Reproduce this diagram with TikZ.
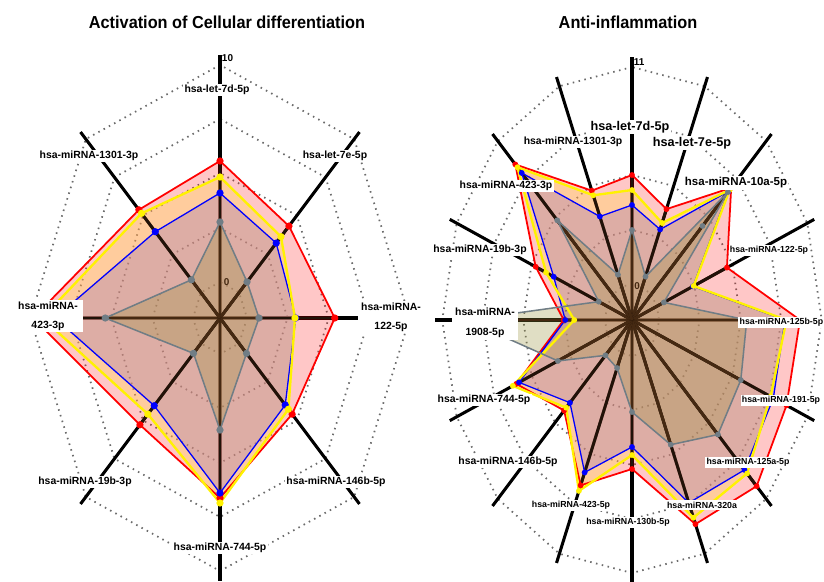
\documentclass[tikz,border=0pt]{standalone}
\usepackage{fontspec}
\setmainfont{Liberation Sans}
\usetikzlibrary{positioning}
\definecolor{seryellow}{rgb}{1.0,0.95,0.0}
\definecolor{serblue}{rgb}{0.0,0.0,1.0}
\definecolor{sergray}{rgb}{0.44,0.49,0.52}
\definecolor{yelfill}{rgb}{1.0,0.83,0.38}
\definecolor{bluefill}{rgb}{0.57,0.40,0.72}
\definecolor{grayfill}{rgb}{0.60,0.57,0.23}
\definecolor{axisdark}{rgb}{0.13,0.07,0.03}
\definecolor{axisbrown}{rgb}{0.27,0.16,0.07}
\definecolor{ringgray}{rgb}{0.42,0.42,0.42}
\newcommand{\radarpts}[3]{\foreach \v [count=\k from 0] in {#3} {\coordinate (#1\k) at ({90-#2*\k}:\v);}}
\tikzset{
  ring/.style={ringgray, line width=1.5pt, dash pattern=on 1.3pt off 3.8pt},
  axisline/.style={black, line width=2.6pt},
  axisin/.style={axisdark, line width=2.5pt},
  axisover/.style={axisbrown, line width=2.5pt},
  redfill/.style={fill=red, fill opacity=0.22},
  yelarea/.style={fill=yelfill, fill opacity=0.4},
  bluearea/.style={fill=bluefill, fill opacity=0.3},
  grayarea/.style={fill=grayfill, fill opacity=0.3},
  redline/.style={red, line width=1.5pt, line join=round},
  yelline/.style={seryellow, line width=2pt, line join=round},
  blueline/.style={serblue, line width=1.1pt, line join=round},
  grayline/.style={sergray, line width=1.3pt, line join=round},
  dot/.style={circle, inner sep=0pt, minimum size=6.2pt},
  sdot/.style={circle, inner sep=0pt, minimum size=5pt},
  lab/.style={fill=white, inner sep=1.2pt, align=center, font=\bfseries\fontsize{8.9}{16}\selectfont},
  labs/.style={lab, font=\bfseries\fontsize{7.5}{9}\selectfont},
  labm/.style={lab, font=\bfseries\fontsize{9.8}{12}\selectfont},
  labl/.style={lab, font=\bfseries\fontsize{10.8}{13}\selectfont},
  tick/.style={inner sep=0.5pt, font=\bfseries\fontsize{8.5}{9}\selectfont},
  title/.style={font=\bfseries\fontsize{14.8}{17}\selectfont}
}
\begin{document}
\begin{tikzpicture}[x=0.3mm, y=0.3mm]
\useasboundingbox (0,0) rectangle (824,581);

\begin{scope}[shift={(220,263)}, xscale=0.75]
  \coordinate (lc) at (0,0);
  \foreach \r in {36,90,145,199,253}
    \draw[ring] (90:\r) \foreach \a in {135,180,...,405} {-- (\a:\r)} -- cycle;
  \foreach \k in {0,...,7} {
    \coordinate (la\k) at ({90-45*\k}:263);
    \draw[axisline] (lc) -- (la\k);
  }
  \radarpts{lr}{45}{157,130,153,136,180,151,249,153}
  \radarpts{ly}{45}{141,115,100,129,185,136,237,148}
  \radarpts{lb}{45}{125,106,101,123,175,124,220,122}
  \radarpts{lg}{45}{96,51,52,50,112,50,153,54}
  \fill[redfill] (lr0) \foreach \k in {1,...,7} {-- (lr\k)} -- cycle;
  \fill[yelarea] (ly0) \foreach \k in {1,...,7} {-- (ly\k)} -- cycle;
  \fill[bluearea] (lb0) \foreach \k in {1,...,7} {-- (lb\k)} -- cycle;
  \fill[grayarea] (lg0) \foreach \k in {1,...,7} {-- (lg\k)} -- cycle;
  \foreach \k in {0,...,7} {
    \draw[axisin] (lc) -- (lr\k) (lc) -- (ly\k) (lc) -- (lb\k);
    \draw[axisover] (lc) -- (lg\k);
  }
  \node[tick, axisbrown] (lz) at (9,36) {0};
  \draw[redline] (lr0) \foreach \k in {1,...,7} {-- (lr\k)} -- cycle;
  \draw[blueline] (lb0) \foreach \k in {1,...,7} {-- (lb\k)} -- cycle;
  \draw[yelline] (ly0) \foreach \k in {1,...,7} {-- (ly\k)} -- cycle;
  \draw[grayline] (lg0) \foreach \k in {1,...,7} {-- (lg\k)} -- cycle;
  \foreach \k in {0,...,7} {
    \node[dot, fill=red] (lrd\k) at (lr\k) {};
    \node[dot, fill=serblue] (lbd\k) at (lb\k) {};
    \node[dot, fill=seryellow] (lyd\k) at (ly\k) {};
    \node[dot, fill=sergray] (lgd\k) at (lg\k) {};
  }
\end{scope}

\begin{scope}[shift={(632,261)}, xscale=0.75]
  \coordinate (rc) at (0,0);
  \foreach \r in {36,90,145,199,253}
    \draw[ring] (90:\r) \foreach \a in {112.5,135,...,427.5} {-- (\a:\r)} -- cycle;
  \foreach \k in {0,...,15} {
    \coordinate (ra\k) at ({90-22.5*\k}:263);
    \draw[axisline] (rc) -- (ra\k);
  }
  \radarpts{rr}{22.5}{145,120,187,137,224,223,235,221,149,179,128,167,91,139,220,140}
  \radarpts{ry}{22.5}{130,105,184,89,206,200,217,214,135,185,124,172,77,124,216,135}
  \radarpts{rb}{22.5}{115,98,182,88,204,204,212,198,127,165,117,163,89,113,208,112}
  \radarpts{rg}{22.5}{90,47,181,46,153,157,162,135,92,52,50,107,221,48,141,49}
  \fill[redfill] (rr0) \foreach \k in {1,...,15} {-- (rr\k)} -- cycle;
  \fill[yelarea] (ry0) \foreach \k in {1,...,15} {-- (ry\k)} -- cycle;
  \fill[bluearea] (rb0) \foreach \k in {1,...,15} {-- (rb\k)} -- cycle;
  \fill[grayarea] (rg0) \foreach \k in {1,...,15} {-- (rg\k)} -- cycle;
  \foreach \k in {0,...,15} {
    \draw[axisin] (rc) -- (rr\k) (rc) -- (ry\k) (rc) -- (rb\k);
    \draw[axisover] (rc) -- (rg\k);
  }
  \node[tick, axisbrown] (rz) at (7,34) {0};
  \draw[redline] (rr0) \foreach \k in {1,...,15} {-- (rr\k)} -- cycle;
  \draw[blueline] (rb0) \foreach \k in {1,...,15} {-- (rb\k)} -- cycle;
  \draw[yelline] (ry0) \foreach \k in {1,...,15} {-- (ry\k)} -- cycle;
  \draw[grayline] (rg0) \foreach \k in {1,...,15} {-- (rg\k)} -- cycle;
  \foreach \k in {0,...,15} {
    \node[sdot, fill=red] (rrd\k) at (rr\k) {};
    \node[sdot, fill=serblue] (rbd\k) at (rb\k) {};
    \node[sdot, fill=seryellow] (ryd\k) at (ry\k) {};
    \node[sdot, fill=sergray] (rgd\k) at (rg\k) {};
  }
  \node[sdot, fill=sergray] (rgx) at (45:133) {};
\end{scope}

\node[tick, right=1pt of la0, yshift=-2.5pt] (t10) {10};
\node[tick, right=1pt of ra0, yshift=-4pt] (t11) {11};

\node[lab] (ll0) at (217,491) {hsa-let-7d-5p};
\node[lab] (ll1) at (335,425) {hsa-let-7e-5p};
\node[lab, inner xsep=3pt] (ll2) at (391,264) {hsa-miRNA-\\122-5p};
\node[lab] (ll3) at (336,99) {hsa-miRNA-146b-5p};
\node[lab] (ll4) at (220,33) {hsa-miRNA-744-5p};
\node[lab] (ll5) at (85,99) {hsa-miRNA-19b-3p};
\node[lab, inner xsep=4pt] (ll6) at (48,265) {hsa-miRNA-\\423-3p};
\node[lab] (ll7) at (89,425) {hsa-miRNA-1301-3p};

\node[labl] (rl0) at (630,454) {hsa-let-7d-5p};
\node[labl] (rl1) at (692,438) {hsa-let-7e-5p};
\node[labm] (rl2) at (736,398) {hsa-miRNA-10a-5p};
\node[labs] (rl3) at (769,331) {hsa-miRNA-122-5p};
\node[labs, anchor=west] (rl4) at (738,259) {hsa-miRNA-125b-5p};
\node[labs] (rl5) at (781,181) {hsa-miRNA-191-5p};
\node[labs] (rl6) at (748,119) {hsa-miRNA-125a-5p};
\node[labs] (rl7) at (702,76) {hsa-miRNA-320a};
\node[labs] (rl8) at (628,59) {hsa-miRNA-130b-5p};
\node[labs] (rl9) at (571,76) {hsa-miRNA-423-5p};
\node[lab] (rl10) at (508,119) {hsa-miRNA-146b-5p};
\node[lab] (rl11) at (484,181) {hsa-miRNA-744-5p};
\node[lab, inner xsep=3pt] (rl12) at (485,258) {hsa-miRNA-\\[1.5pt]1908-5p};
\node[lab] (rl13) at (480,331) {hsa-miRNA-19b-3p};
\node[lab] (rl14) at (506,395) {hsa-miRNA-423-3p};
\node[lab] (rl15) at (573,439) {hsa-miRNA-1301-3p};

\node[title] (ltitle) at (227,559) {\scalebox{0.94}[1]{Activation of Cellular differentiation}};
\node[title] (rtitle) at (628,559) {\scalebox{0.94}[1]{Anti-inflammation}};
\end{tikzpicture}
\end{document}
